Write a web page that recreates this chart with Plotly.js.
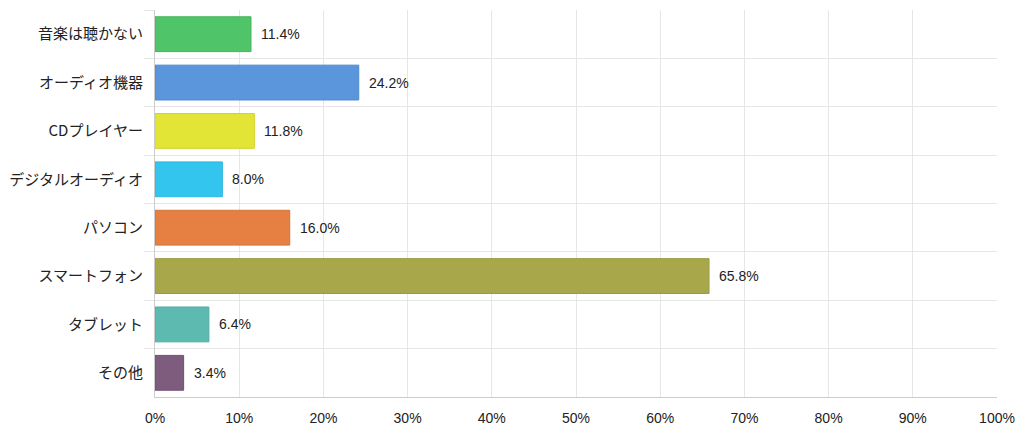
<!DOCTYPE html>
<html>
<head>
<meta charset="utf-8">
<script src="https://cdn.plot.ly/plotly-3.0.1.min.js"></script>
<style>
  html, body { margin: 0; padding: 0; background: #fff; }
  #chart { width: 1024px; height: 432px; }
</style>
</head>
<body>
<div id="chart"></div>
<script>
// Listening devices survey (percent of respondents)
const categories = ['音楽は聴かない', 'オーディオ機器', 'CDプレイヤー', 'デジタルオーディオ', 'パソコン', 'スマートフォン', 'タブレット', 'その他'];
const values = [11.4, 24.2, 11.8, 8.0, 16.0, 65.8, 6.4, 3.4];
const barColors = ['#50c468', '#5b95db', '#e2e436', '#34c5ef', '#e67f42', '#a8a84a', '#5cbab0', '#7e5c7e'];
const borderColors = ['#46b45d', '#5088cc', '#d3d52c', '#2cb6df', '#d77338', '#9a9a40', '#51aba2', '#714f71'];
const xTicks = [0, 10, 20, 30, 40, 50, 60, 70, 80, 90, 100];

const FONT = '"Liberation Sans", Arial, "Noto Sans CJK JP", sans-serif';
const GRID = '#e6e6e6';

const trace = {
    type: 'bar',
    orientation: 'h',
    x: values,
    y: categories,
    marker: {
        color: barColors,
        line: { color: borderColors, width: 1 },
    },
    hoverinfo: 'none',
};

// value labels just right of each bar
const labels = values.map((v, i) => ({
    x: v,
    y: categories[i],
    xref: 'x',
    yref: 'y',
    text: v.toFixed(1) + '%',
    showarrow: false,
    xanchor: 'left',
    xshift: 8,
    font: { family: FONT, size: 14, color: '#222' },
}));

const layout = {
    width: 1024,
    height: 432,
    margin: { l: 155, r: 27, t: 10, b: 35 },
    paper_bgcolor: '#fff',
    plot_bgcolor: '#fff',
    showlegend: false,
    bargap: 0.28,
    font: { family: FONT, size: 14, color: '#222' },
    xaxis: {
        range: [0, 100],
        tickvals: xTicks,
        ticktext: xTicks.map(t => t + '%'),
        showgrid: true,
        gridcolor: GRID,
        gridwidth: 1,
        zeroline: false,
        showline: true,
        linecolor: '#cccccc',
        ticks: 'outside',
        ticklen: 8,
        tickcolor: '#ffffff',
        tickfont: { family: FONT, size: 14, color: '#222' },
        fixedrange: true,
    },
    yaxis: {
        type: 'category',
        autorange: 'reversed',
        tickson: 'boundaries',
        showgrid: true,
        gridcolor: GRID,
        gridwidth: 1,
        showline: true,
        linecolor: '#cccccc',
        ticks: 'outside',
        ticklen: 10,
        tickcolor: GRID,
        ticklabelstandoff: 8,
        tickfont: { family: '"Noto Sans CJK JP", sans-serif', size: 15, color: '#222' },
        fixedrange: true,
    },
    annotations: labels,
};

Plotly.newPlot('chart', [trace], layout, { displayModeBar: false, staticPlot: true });
</script>
</body>
</html>
